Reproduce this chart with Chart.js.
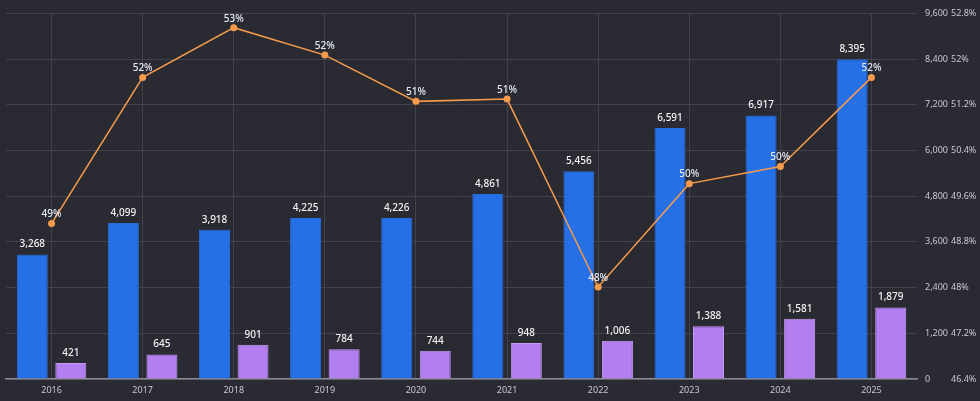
<!DOCTYPE html>
<html>
<head>
<meta charset="utf-8">
<script src="https://cdn.jsdelivr.net/npm/chart.js@4.4.1/dist/chart.umd.min.js"></script>
<style>
  html, body { margin: 0; padding: 0; background: #2a2a32; }
  #wrap { width: 980px; height: 401px; }
</style>
</head>
<body>
<div id="wrap"><canvas id="chart"></canvas></div>
<script>
const years = ['2016', '2017', '2018', '2019', '2020', '2021', '2022', '2023', '2024', '2025']
const totalCount = [3268, 4099, 3918, 4225, 4226, 4861, 5456, 6591, 6917, 8395]
const subCount = [421, 645, 901, 784, 744, 948, 1006, 1388, 1581, 1879]
const sharePct = [49.12, 51.68, 52.55, 52.07, 51.26, 51.3, 48.01, 49.82, 50.12, 51.68]

const FONT = "'Noto Sans', sans-serif"
const GRID = '#42424c'

// draws value labels above bars and points
const valueLabels = {
  id: 'valueLabels',
  afterDatasetsDraw(chart) {
    const ctx = chart.ctx
    ctx.save()
    ctx.textAlign = 'center'
    ctx.textBaseline = 'bottom'
    ctx.font = `500 10px ${FONT}`
    chart.data.datasets.forEach((ds, i) => {
      const meta = chart.getDatasetMeta(i)
      meta.data.forEach((el, j) => {
        const v = ds.data[j]
        if (ds.type === 'line') {
          ctx.fillStyle = '#e6e9f2'
          ctx.fillText(Math.round(v) + '%', el.x, el.y - 4)
        } else {
          ctx.fillStyle = '#f2f2f5'
          ctx.fillText(v.toLocaleString('en-US'), el.x, el.y - 5)
        }
      })
    })
    ctx.restore()
  }
}

new Chart(document.getElementById('chart'), {
  type: 'bar',
  data: {
    labels: years,
    datasets: [
      {
        type: 'line', label: 'Share', data: sharePct, yAxisID: 'y1', order: 0,
        borderColor: '#f69b4b', backgroundColor: '#f69b4b', borderWidth: 1.5,
        pointRadius: 3.5, pointBackgroundColor: '#f69b4b', pointBorderWidth: 0, tension: 0,
      },
      {
        label: 'Total', data: totalCount, yAxisID: 'y', order: 1,
        backgroundColor: '#2570e6', borderColor: '#2a6ad8', borderWidth: 1,
        categoryPercentage: 0.846, barPercentage: 0.805,
      },
      {
        label: 'Sub', data: subCount, yAxisID: 'y', order: 1,
        backgroundColor: '#b37ff0', borderColor: '#c49af4', borderWidth: 1,
        categoryPercentage: 0.846, barPercentage: 0.805,
      },
    ],
  },
  options: {
    responsive: true,
    maintainAspectRatio: false,
    animation: false,
    layout: { padding: { left: 6, top: 6, right: 0, bottom: 0 } },
    plugins: { legend: { display: false }, tooltip: { enabled: false } },
    scales: {
      x: {
        offset: true,
        grid: { color: GRID, offset: false, drawTicks: false },
        border: { color: '#8a8a92', width: 1.5 },
        ticks: { color: '#c8c8cf', font: { family: FONT, size: 9 }, padding: 6 },
        afterFit: s => { s.height = 22 },
      },
      y: {
        position: 'right', min: 0, max: 9600,
        grid: { color: GRID, drawTicks: false },
        border: { display: false },
        ticks: {
          stepSize: 1200, padding: 8, color: '#c8c8cf', font: { family: FONT, size: 9 },
          callback: v => v.toLocaleString('en-US'),
        },
        afterFit: s => { s.width = 31 },
      },
      y1: {
        position: 'right', min: 46.4, max: 52.8,
        grid: { drawOnChartArea: false, drawTicks: false },
        border: { display: false },
        ticks: {
          stepSize: 0.8, padding: 3, color: '#c8c8cf', font: { family: FONT, size: 9 },
          callback: v => parseFloat(v.toFixed(1)) + '%',
        },
        afterFit: s => { s.width = 32 },
      },
    },
  },
  plugins: [valueLabels],
})
</script>
</body>
</html>
